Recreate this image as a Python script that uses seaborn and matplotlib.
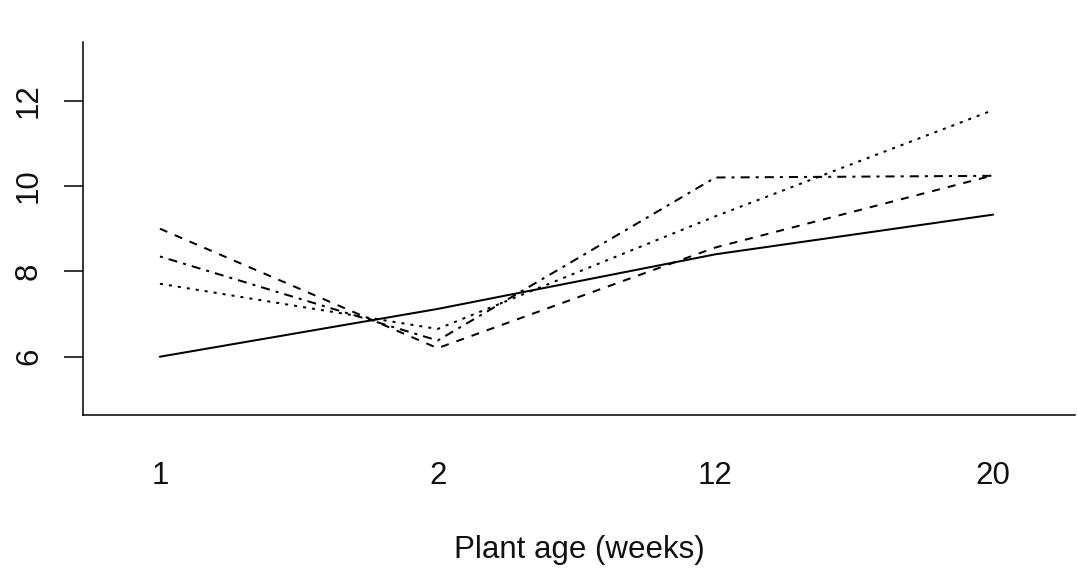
import matplotlib
matplotlib.use("Agg")
import matplotlib.pyplot as plt
import seaborn as sns
import pandas as pd

ages = ["1", "2", "12", "20"]
solid_vals = [6.0, 7.12, 8.4, 9.33]
dashed_vals = [9.0, 6.2, 8.56, 10.25]
dotted_vals = [7.71, 6.65, 9.29, 11.78]
dotdash_vals = [8.35, 6.38, 10.2, 10.24]
yticks = [6, 8, 10, 12]

series = {"A": solid_vals, "B": dashed_vals, "C": dotted_vals, "D": dotdash_vals}
rows = []
for g, vals in series.items():
    for i, v in enumerate(vals):
        rows.append({"pos": i, "value": v, "group": g})
df = pd.DataFrame(rows)

sns.set_style("white")
plt.rcParams["font.family"] = ["Liberation Sans", "DejaVu Sans"]

fig = plt.figure(figsize=(10.78, 5.72), dpi=100)
ax = fig.add_axes([83 / 1078, 157 / 572, 992 / 1078, 373 / 572])

dash_map = {"A": "", "B": (4, 4), "C": (1.5, 3), "D": (1.5, 3, 4.5, 3)}
sns.lineplot(data=df, x="pos", y="value", style="group", dashes=dash_map,
             color="black", linewidth=1.45, legend=False, ax=ax, sort=False)

ax.set_xlim(-0.277, 3.295)
ax.set_ylim(4.634, 13.376)
ax.set_xticks(range(len(ages)))
ax.set_xticklabels(ages)
ax.set_yticks(yticks)
ax.set_yticklabels([str(t) for t in yticks], rotation=90, va="center")

ax.tick_params(axis="x", length=0, pad=33, labelsize=22.5, labelcolor="#111111")
ax.tick_params(axis="y", length=14, width=1.1, pad=14, labelsize=22.5,
               labelcolor="#111111", color="black", left=True)
for s in ["top", "right"]:
    ax.spines[s].set_visible(False)
for s in ["left", "bottom"]:
    ax.spines[s].set_color("black")
    ax.spines[s].set_linewidth(1.1)

ax.set_xlabel("Plant age (weeks)", fontsize=22.5, labelpad=31.5, color="#111111")
ax.set_ylabel("")

fig.savefig("out.png", dpi=100, facecolor="white")
